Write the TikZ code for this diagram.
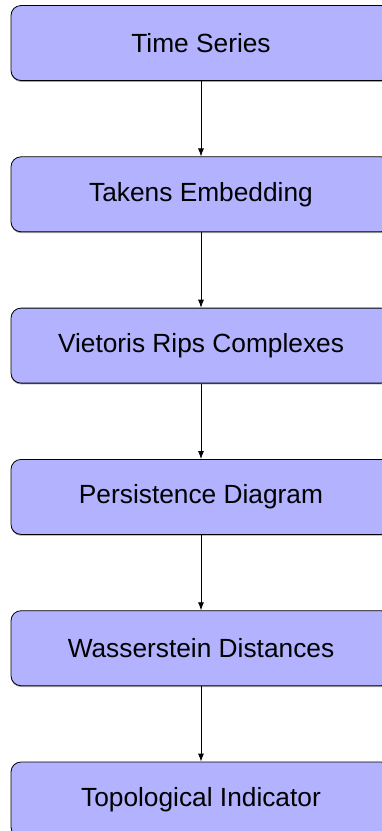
\documentclass[tikz,border=0pt]{standalone}
\usepackage{fontspec}
\setmainfont{Liberation Sans}
\usetikzlibrary{arrows.meta,shadows}
\begin{document}
\begin{tikzpicture}[x=1pt,y=-1pt,
  stagebox/.style={draw=black, line width=0.8pt, fill=blue!30, rounded corners=10pt,
    minimum width=380pt, minimum height=75pt, inner sep=0pt,
    font=\fontsize{26.3}{30}\selectfont,
    drop shadow={shadow xshift=0pt, shadow yshift=-1.3pt, opacity=0.6, fill=black!60}},
  flow/.style={draw=black, line width=0.8pt, -{Latex[length=8pt,width=6pt]}}]
\useasboundingbox (0,0) rectangle (381,831);
\node[stagebox] (a) at (201,43) {Time Series};
\node[stagebox] (b) at (201,194.3) {Takens Embedding};
\node[stagebox] (c) at (201,345.6) {Vietoris Rips Complexes};
\node[stagebox] (d) at (201,496.9) {Persistence Diagram};
\node[stagebox] (e) at (201,648.2) {Wasserstein Distances};
\node[stagebox] (f) at (201,799.5) {Topological Indicator};
\draw[flow] (a) -- (b);
\draw[flow] (b) -- (c);
\draw[flow] (c) -- (d);
\draw[flow] (d) -- (e);
\draw[flow] (e) -- (f);
\end{tikzpicture}
\end{document}
